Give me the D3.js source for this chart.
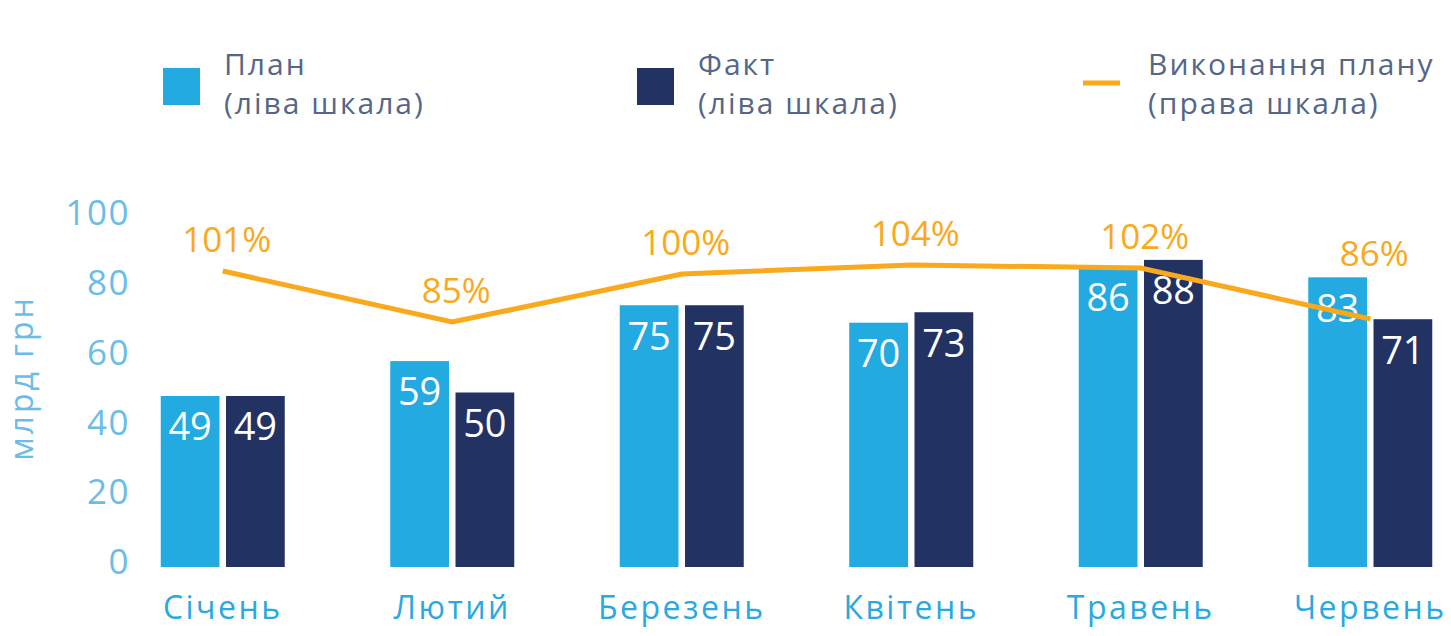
<!DOCTYPE html>
<html>
<head>
<meta charset="utf-8">
<script src="https://cdn.jsdelivr.net/npm/d3@7"></script>
<style>
  body { margin: 0; background: #fff; }
  svg { font-family: "Open Sans", sans-serif; }
</style>
</head>
<body>
<div id="container"></div>
<script>
let w = 1451;
let h = 636;

// DATA
let months = ["Січень", "Лютий", "Березень", "Квітень", "Травень", "Червень"];
let plan = [49, 59, 75, 70, 86, 83];
let fact = [49, 50, 75, 73, 88, 71];
let execution = [101, 85, 100, 104, 102, 86];
let execPos = [102, 85, 101, 104, 103, 86]; // where the line sits (right scale)
let leftTicks = [0, 20, 40, 60, 80, 100];

let planColor = "#22aae1";
let factColor = "#223263";
let lineColor = "#f9a91b";

let viz = d3.select("#container").append("svg")
    .attr("width", w)
    .attr("height", h)
;

// SCALES
let xScale = d3.scaleBand().domain(months).range([108, 1485]);
let xInner = d3.scaleBand().domain(["plan", "fact"]).range([-62, 62]).paddingInner(0.1);
let yLeft = d3.scaleLinear().domain([0, 100]).range([567, 218]);
let yRight = d3.scaleLinear().domain([0, 120]).range([577, 217]);

function cx(m){ return xScale(m) + xScale.bandwidth()/2; }

// left axis labels
viz.selectAll(".tick").data(leftTicks).enter()
  .append("text")
    .attr("class", "tick")
    .attr("x", 130)
    .attr("y", function(d){ return yLeft(d) - 5; })
    .attr("dy", "0.35em")
    .attr("text-anchor", "end")
    .attr("fill", "#6bbde8")
    .attr("font-size", 35)
    .attr("letter-spacing", 1.5)
    .text(function(d){ return d; })
;

viz.append("text")
    .attr("transform", "translate(33,378) rotate(-90)")
    .attr("text-anchor", "middle")
    .attr("fill", "#6bbde8")
    .attr("font-size", 32)
    .attr("letter-spacing", 3)
    .text("млрд грн")
;

// BARS
let groups = viz.selectAll(".month").data(months).enter()
  .append("g")
    .attr("class", "month")
    .attr("transform", function(d){ return "translate(" + cx(d) + ",0)"; })
;

let series = [
  {key: "plan", values: plan, color: planColor},
  {key: "fact", values: fact, color: factColor}
];

series.forEach(function(s){
  groups.append("rect")
      .attr("x", xInner(s.key))
      .attr("width", xInner.bandwidth())
      .attr("y", function(d,i){ return yLeft(s.values[i]); })
      .attr("height", function(d,i){ return yLeft(0) - yLeft(s.values[i]); })
      .attr("fill", s.color)
  ;
  groups.append("text")
      .attr("x", xInner(s.key) + xInner.bandwidth()/2)
      .attr("y", function(d,i){ return yLeft(s.values[i]) + 31; })
      .attr("dy", "0.35em")
      .attr("text-anchor", "middle")
      .attr("fill", "white")
      .attr("font-size", 38)
      .text(function(d,i){ return s.values[i]; })
  ;
});

// month labels
viz.selectAll(".mlabel").data(months).enter()
  .append("text")
    .attr("class", "mlabel")
    .attr("x", function(d){ return cx(d); })
    .attr("y", 608)
    .attr("dy", "0.35em")
    .attr("text-anchor", "middle")
    .attr("fill", "#29a9e0")
    .attr("font-size", 32)
    .attr("letter-spacing", 2.5)
    .text(function(d){ return d; })
;

// LINE
let lineMaker = d3.line()
    .x(function(d,i){ return cx(months[i]); })
    .y(function(d){ return yRight(d); })
;

viz.append("path")
    .datum(execPos)
    .attr("d", lineMaker)
    .attr("fill", "none")
    .attr("stroke", lineColor)
    .attr("stroke-width", 5)
;

// percent labels sit above the line, or above the plan bar if that is higher
viz.selectAll(".pct").data(execution).enter()
  .append("text")
    .attr("class", "pct")
    .attr("x", function(d,i){ return cx(months[i]) + 4; })
    .attr("y", function(d,i){
      return Math.min(yRight(execPos[i]) - 31, yLeft(plan[i]) - 24);
    })
    .attr("dy", "0.35em")
    .attr("text-anchor", "middle")
    .attr("fill", lineColor)
    .attr("font-size", 35)
    .text(function(d){ return d + "%"; })
;

// LEGEND
let legend = [
  {x: 163, line1: "План", line2: "(ліва шкала)", color: planColor, type: "rect"},
  {x: 637, line1: "Факт", line2: "(ліва шкала)", color: factColor, type: "rect"},
  {x: 1083, line1: "Виконання плану", line2: "(права шкала)", color: lineColor, type: "line"}
];

let leg = viz.selectAll(".legend").data(legend).enter()
  .append("g")
    .attr("class", "legend")
    .attr("transform", function(d){ return "translate(" + d.x + ",0)"; })
;

leg.filter(function(d){ return d.type == "rect"; })
  .append("rect")
    .attr("y", 68)
    .attr("width", 37)
    .attr("height", 37)
    .attr("fill", function(d){ return d.color; })
;

leg.filter(function(d){ return d.type == "line"; })
  .append("line")
    .attr("x1", 0).attr("x2", 37)
    .attr("y1", 83).attr("y2", 83)
    .attr("stroke", function(d){ return d.color; })
    .attr("stroke-width", 5)
;

leg.append("text")
    .attr("x", function(d){ return d.type == "line" ? 65 : 61; })
    .attr("y", 75)
    .attr("fill", "#556688")
    .attr("font-size", 30)
    .attr("letter-spacing", 2)
    .text(function(d){ return d.line1; })
;
leg.append("text")
    .attr("x", function(d){ return d.type == "line" ? 65 : 61; })
    .attr("y", 114)
    .attr("fill", "#556688")
    .attr("font-size", 30)
    .attr("letter-spacing", 2)
    .text(function(d){ return d.line2; })
;
</script>
</body>
</html>
